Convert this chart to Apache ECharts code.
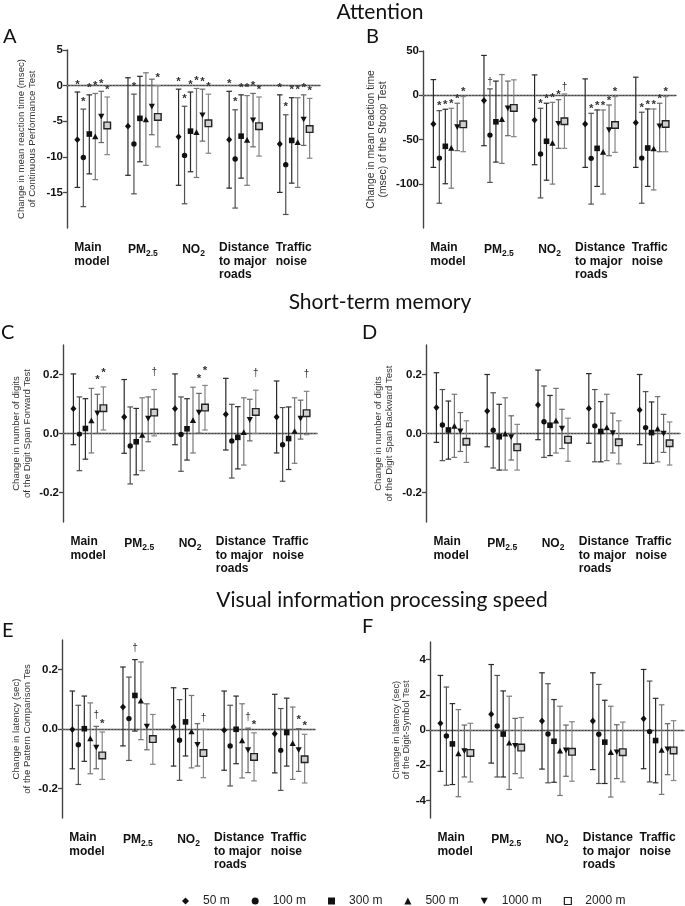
<!DOCTYPE html>
<html>
<head>
<meta charset="utf-8">
<script src="https://cdn.jsdelivr.net/npm/echarts@6/dist/echarts.min.js"></script>
<style>html,body{margin:0;padding:0;background:#fff}#c{width:685px;height:906px}</style>
</head>
<body>
<div id="c"></div>
<script>
// ---------- DATA ----------
const categories = ['Main\nmodel', 'PM2.5', 'NO2', 'Distance\nto major\nroads', 'Traffic\nnoise'];
const distances = ['50 m', '100 m', '300 m', '500 m', '1000 m', '2000 m'];

// rows: 50,100,300,500,1000,2000 m ; cols: categories
const meanA = [[-7.6,-5.7,-7.2,-7.6,-8.2],[-10.1,-8.2,-9.8,-10.3,-11.1],[-6.8,-4.6,-6.4,-7.1,-7.7],[-7.2,-4.8,-6.6,-7.7,-8.0],[-4.3,-2.9,-4.1,-4.8,-4.7],[-5.6,-4.4,-5.3,-5.7,-6.1]];
const lowA  = [[-14.3,-12.6,-14.0,-14.4,-15.0],[-17.0,-15.2,-16.6,-17.2,-18.1],[-12.4,-10.7,-12.1,-13.0,-13.7],[-13.2,-11.2,-12.9,-14.0,-14.3],[-8.0,-6.9,-7.8,-8.6,-8.4],[-9.7,-8.6,-9.5,-9.9,-10.2]];
const highA = [[-0.9,1.1,-0.5,-0.8,-1.3],[-3.3,-1.2,-2.9,-3.4,-4.1],[-1.3,1.3,-0.9,-1.3,-1.7],[-1.1,1.8,-0.4,-1.4,-1.7],[-0.8,0.9,-0.5,-1.1,-1.3],[-1.6,0.0,-1.2,-1.6,-1.8]];
const marksA = [['*','','*','*','*'],['*','*','*','*','*'],['*','','*','*','*'],['*','','*','*','*'],['*','','*','*','*'],['*','*','*','*','*']];

const meanB = [[-32.5,-6,-28,-32.5,-31],[-71,-45,-66.4,-71.3,-71],[-57.7,-30,-52,-60,-59.6],[-60,-27.5,-54.3,-64.5,-60.7],[-35.5,-14.3,-31.7,-38.9,-34.7],[-32.8,-14.3,-29.4,-33.6,-32.5]];
const lowB  = [[-81.5,-57,-78.5,-81.5,-81.5],[-122,-98.5,-116,-123,-122],[-100,-75.5,-96,-103,-103],[-105,-77,-100.4,-111.7,-107],[-62.6,-45.7,-60,-68.3,-63.8],[-63.8,-46.8,-60,-64.5,-63.8]];
const highB = [[17.7,45,23,18.5,20.4],[-17.4,7.2,-14.7,-20.4,-19.2],[-15.8,16,-9,-16.6,-15.5],[-14.7,23.4,-8,-16.6,-15.5],[-9,16,-5,-11,-9],[-1.5,17.4,1.5,-1.5,-1.5]];
const marksB = [['','','','',''],['*','†','*','*','*'],['*','','*','*','*'],['*','','*','*','*'],['*','','*','*','*'],['*','','†','*','*']];

const meanC = [[0.084,0.056,0.084,0.065,0.056],[-0.002,-0.042,-0.003,-0.025,-0.038],[0.017,-0.028,0.016,-0.013,-0.017],[0.043,-0.006,0.044,0.003,0.007],[0.070,0.052,0.072,0.048,0.052],[0.086,0.071,0.088,0.073,0.069]];
const lowC  = [[-0.038,-0.067,-0.038,-0.056,-0.066],[-0.126,-0.171,-0.128,-0.151,-0.162],[-0.087,-0.140,-0.090,-0.120,-0.122],[-0.066,-0.126,-0.066,-0.107,-0.101],[0.000,-0.028,0.001,-0.025,-0.019],[0.012,-0.008,0.012,0.000,-0.004]];
const highC = [[0.202,0.183,0.202,0.187,0.178],[0.124,0.090,0.124,0.099,0.088],[0.118,0.085,0.118,0.091,0.090],[0.153,0.121,0.157,0.121,0.121],[0.133,0.124,0.136,0.116,0.113],[0.158,0.149,0.163,0.147,0.143]];
const marksC = [['','','','',''],['','','','',''],['','','','',''],['','','','',''],['*','','*','',''],['*','†','*','†','†']];

const meanD = [[0.088,0.076,0.097,0.085,0.080],[0.029,0.011,0.040,0.026,0.020],[0.012,-0.011,0.028,0.007,0.003],[0.024,-0.002,0.042,0.019,0.015],[0.009,-0.011,0.018,0.003,0.001],[-0.028,-0.047,-0.021,-0.030,-0.033]];
const lowD  = [[-0.030,-0.045,-0.021,-0.033,-0.038],[-0.092,-0.117,-0.081,-0.096,-0.101],[-0.087,-0.124,-0.075,-0.096,-0.101],[-0.081,-0.124,-0.066,-0.092,-0.096],[-0.061,-0.090,-0.051,-0.066,-0.064],[-0.098,-0.124,-0.094,-0.103,-0.107]];
const highD = [[0.206,0.200,0.215,0.203,0.200],[0.149,0.138,0.161,0.149,0.142],[0.110,0.099,0.129,0.108,0.107],[0.133,0.121,0.153,0.133,0.125],[0.071,0.060,0.082,0.069,0.065],[0.043,0.031,0.052,0.043,0.039]];
const marksD = [['','','','',''],['','','','',''],['','','','',''],['','','','',''],['','','','',''],['','','','','']];

const meanE = [[-0.002,0.074,0.007,-0.004,-0.016],[-0.053,0.035,-0.038,-0.057,-0.072],[0.001,0.113,0.024,-0.001,-0.012],[-0.033,0.094,-0.010,-0.040,-0.049],[-0.061,0.010,-0.052,-0.070,-0.070],[-0.089,-0.034,-0.081,-0.094,-0.102]];
const lowE  = [[-0.134,-0.057,-0.125,-0.139,-0.148],[-0.187,-0.106,-0.173,-0.192,-0.207],[-0.109,-0.007,-0.091,-0.117,-0.125],[-0.151,-0.036,-0.131,-0.165,-0.170],[-0.134,-0.070,-0.125,-0.147,-0.143],[-0.170,-0.119,-0.164,-0.175,-0.182]];
const highE = [[0.128,0.209,0.139,0.128,0.117],[0.080,0.175,0.099,0.080,0.069],[0.111,0.234,0.136,0.111,0.104],[0.088,0.226,0.113,0.085,0.074],[0.009,0.085,0.018,0.003,0.001],[-0.010,0.049,-0.001,-0.013,-0.018]];
const marksE = [['','','','',''],['','','','',''],['','†','','',''],['','','','',''],['†','','','†','*'],['*','','†','*','*']];

const meanF = [[0.38,0.90,0.51,0.51,0.64],[-0.34,0.23,-0.23,-0.24,-0.09],[-0.79,-0.23,-0.64,-0.69,-0.60],[-1.35,-0.75,-1.20,-1.28,-1.16],[-1.18,-0.88,-1.13,-1.24,-1.07],[-1.30,-1.00,-1.24,-1.26,-1.16]];
const lowF  = [[-2.35,-1.88,-2.22,-2.25,-2.20],[-3.14,-2.67,-3.00,-3.04,-2.95],[-3.10,-2.67,-2.97,-3.04,-3.00],[-3.79,-3.38,-3.72,-3.81,-3.66],[-2.67,-2.48,-2.63,-2.76,-2.54],[-2.95,-2.72,-2.91,-2.95,-2.87]];
const highF = [[3.10,3.72,3.25,3.25,3.44],[2.44,3.10,2.63,2.59,2.78],[1.50,2.22,1.73,1.69,1.80],[1.16,1.92,1.35,1.35,1.43],[0.28,0.66,0.28,0.30,0.36],[0.38,0.71,0.47,0.45,0.53]];
const marksF = [['','','','',''],['','','','',''],['','','','',''],['','','','',''],['','','','',''],['','','','','']];

const ticksA = [5, 0, -5, -10, -15];
const ticksB = [50, 0, -50, -100];
const ticksC = [0.2, 0, -0.2];
const ticksD = [0.2, 0, -0.2];
const ticksE = [0.2, 0, -0.2];
const ticksF = [4, 2, 0, -2, -4];

const sectionTitles = ['Attention', 'Short-term memory', 'Visual information processing speed'];
const panelLetters = ['A', 'B', 'C', 'D', 'E', 'F'];
const axisNames = [
  'Change in mean reaction time (msec)\nof Continuous Performance Test',
  'Change in mean reaction time\n(msec) of the Stroop Test',
  'Change in number of digits\nof the Digit Span Forward Test',
  'Change in number of digits\nof the Digit Span Backward Test',
  'Change in latency (sec)\nof the Pattern Comparison Tes',
  'Change in latency (sec)\nof the Digit-Symbol Test'
];

// ---------- STYLE / LAYOUT ----------
const FONT = "'Liberation Sans', Arial, sans-serif";
const barColors = ['#2a2a2a', '#505050', '#2a2a2a', '#777777', '#666666', '#858585'];
const int = v => String(v);
const dec = v => (Math.abs(v) < 1e-9 ? 0 : v).toFixed(1);
const panels = [
  {mean: meanA, lo: lowA, hi: highA, marks: marksA, g: [67, 50, 253, 178], min: -20, max: 5, ticks: ticksA, fmt: int, gap: 29, nfs: 9.6, mg: 10},
  {mean: meanB, lo: lowB, hi: highB, marks: marksB, g: [423, 51, 253, 177], min: -150, max: 50, ticks: ticksB, fmt: int, gap: 34, nfs: 10.4, mg: 7},
  {mean: meanC, lo: lowC, hi: highC, marks: marksC, g: [63, 345, 254, 177], min: -0.3, max: 0.3, ticks: ticksC, fmt: dec, gap: 30, nfs: 9.6, mg: 17},
  {mean: meanD, lo: lowD, hi: highD, marks: marksD, g: [426, 345, 254, 177], min: -0.3, max: 0.3, ticks: ticksD, fmt: dec, gap: 31, nfs: 9.6, mg: 10},
  {mean: meanE, lo: lowE, hi: highE, marks: marksE, g: [62, 640, 253, 178], min: -0.3, max: 0.3, ticks: ticksE, fmt: dec, gap: 29, nfs: 9.6, mg: 11},
  {mean: meanF, lo: lowF, hi: highF, marks: marksF, g: [430, 642, 254, 176], min: -5, max: 5, ticks: ticksF, fmt: int, gap: 18, nfs: 9.4, mg: 10}
];

function marker(k, x, y) {
  const c = '#111';
  switch (k) {
    case 0: return {type: 'polygon', shape: {points: [[x, y - 3.4], [x + 3, y], [x, y + 3.4], [x - 3, y]]}, style: {fill: c}};
    case 1: return {type: 'circle', shape: {cx: x, cy: y, r: 2.7}, style: {fill: c}};
    case 2: return {type: 'rect', shape: {x: x - 2.8, y: y - 2.8, width: 5.6, height: 5.6}, style: {fill: c}};
    case 3: return {type: 'polygon', shape: {points: [[x, y - 3.3], [x + 3.1, y + 2.4], [x - 3.1, y + 2.4]]}, style: {fill: c}};
    case 4: return {type: 'polygon', shape: {points: [[x, y + 3.3], [x + 3.1, y - 2.4], [x - 3.1, y - 2.4]]}, style: {fill: c}};
    default: return {type: 'rect', shape: {x: x - 3.3, y: y - 3.3, width: 6.6, height: 6.6}, style: {fill: '#cfcfcf', stroke: '#222', lineWidth: 1.4}};
  }
}

function makeRender(k, marks, mg) {
  return function (params, api) {
    const ci = api.value(0);
    const band = api.size([1, 0])[0];
    const cx = api.coord([ci, 0])[0] + (k - 2.5) * band * 0.118;
    const ym = api.coord([ci, api.value(1)])[1];
    const yl = api.coord([ci, api.value(2)])[1];
    const yh = api.coord([ci, api.value(3)])[1];
    const col = barColors[k], cap = 2.8, lw = 1.2;
    const children = [
      {type: 'line', shape: {x1: cx, y1: yl, x2: cx, y2: yh}, style: {stroke: col, lineWidth: lw}},
      {type: 'line', shape: {x1: cx - cap, y1: yl, x2: cx + cap, y2: yl}, style: {stroke: col, lineWidth: lw}},
      {type: 'line', shape: {x1: cx - cap, y1: yh, x2: cx + cap, y2: yh}, style: {stroke: col, lineWidth: lw}},
      marker(k, cx, ym)
    ];
    const mk = marks[params.dataIndex];
    if (mk) {
      const star = mk === '*';
      children.push({type: 'text', style: {text: mk, x: cx, y: yh - mg + (star ? 2.5 : 0), align: 'center', verticalAlign: 'middle',
        fontSize: star ? 11.5 : 10, fontWeight: star ? 'bold' : 'normal', fontFamily: FONT, fill: '#333'}});
    }
    return {type: 'group', children};
  };
}

const rich = {
  m: {fontSize: 12, fontWeight: 'bold', fontFamily: FONT, color: '#111', lineHeight: 13.5, width: 36, align: 'left'},
  d: {fontSize: 12, fontWeight: 'bold', fontFamily: FONT, color: '#111', lineHeight: 13.5, width: 50, align: 'left'},
  t: {fontSize: 12, fontWeight: 'bold', fontFamily: FONT, color: '#111', lineHeight: 13.5, width: 38, align: 'left'},
  b: {fontSize: 12, fontWeight: 'bold', fontFamily: FONT, color: '#111', lineHeight: 14},
  s: {fontSize: 8.5, fontWeight: 'bold', fontFamily: FONT, color: '#111', lineHeight: 17, verticalAlign: 'bottom'}
};
function catFormatter(v) {
  if (v === 'PM2.5') return '{b|PM}{s|2.5}';
  if (v === 'NO2') return '{b|NO}{s|2}';
  const lines = v.split('\n');
  const key = lines[0] === 'Main' ? 'm' : (lines[0] === 'Distance' ? 'd' : 't');
  return lines.map(l => '{' + key + '|' + l + '}').join('\n');
}

const option = {animation: false, backgroundColor: '#fff', grid: [], xAxis: [], yAxis: [], series: []};
panels.forEach((p, gi) => {
  option.grid.push({left: p.g[0], top: p.g[1], width: p.g[2], height: p.g[3]});
  option.xAxis.push({
    type: 'category', gridIndex: gi, data: categories, boundaryGap: true,
    axisLine: {lineStyle: {color: '#444', width: 1.4}},
    axisTick: {alignWithLabel: true, length: 4, lineStyle: {color: '#444', width: 1.3}},
    axisLabel: {interval: 0, margin: 13, formatter: catFormatter, rich: rich},
    splitLine: {show: false}
  });
  option.yAxis.push({
    type: 'value', gridIndex: gi, min: p.min, max: p.max,
    name: axisNames[gi], nameLocation: 'middle', nameGap: p.gap,
    nameTextStyle: {fontSize: p.nfs, color: '#333', fontFamily: FONT, lineHeight: p.nfs + 1.2},
    axisLine: {show: true, lineStyle: {color: '#444', width: 1.4}},
    axisTick: {show: true, length: 4, customValues: p.ticks, lineStyle: {color: '#444', width: 1.3}},
    axisLabel: {customValues: p.ticks, formatter: p.fmt, fontWeight: 'bold', fontSize: 11.5, color: '#111', margin: 4, fontFamily: FONT},
    splitLine: {show: false}
  });
  distances.forEach((d, k) => {
    const s = {
      type: 'custom', name: d, xAxisIndex: gi, yAxisIndex: gi, itemStyle: {color: '#111'},
      data: categories.map((c, ci) => [ci, p.mean[k][ci], p.lo[k][ci], p.hi[k][ci]]),
      renderItem: makeRender(k, p.marks[k], p.mg), z: 3
    };
    if (k === 0) {
      s.markLine = {silent: true, symbol: ['none', 'none'], label: {show: false}, animation: false, z: 1,
        lineStyle: {type: [1.2, 2], color: '#888', width: 1}, data: [{yAxis: 0}]};
    }
    option.series.push(s);
  });
});

const icons = ['diamond', 'circle', 'rect', 'triangle', 'path://M0,0L10,0L5,9Z', 'rect'];
option.legend = {
  left: 177, top: 890, itemWidth: 7, itemHeight: 7, itemGap: 22, selectedMode: false,
  textStyle: {fontSize: 12, color: '#222', fontFamily: FONT, padding: [0, 0, 0, 9]},
  data: distances.map((d, i) => i === 5
    ? {name: d, icon: 'rect', itemStyle: {color: '#fff', borderColor: '#222', borderWidth: 1.2}}
    : {name: d, icon: icons[i], itemStyle: {color: '#111'}})
};

const titleFont = "21px Lato, 'Open Sans', sans-serif";
const letterFont = "20px Lato, 'Open Sans', sans-serif";
const tPos = [[380, 12], [380, 302], [382, 600]];
const lPos = [[3, 37], [366, 37], [1, 333], [362, 333], [2, 631], [362, 627]];
option.graphic = [];
sectionTitles.forEach((t, i) => option.graphic.push({type: 'text', x: tPos[i][0], y: tPos[i][1],
  style: {text: t, align: 'center', verticalAlign: 'middle', font: titleFont, fill: '#111'}}));
panelLetters.forEach((t, i) => option.graphic.push({type: 'text', x: lPos[i][0], y: lPos[i][1],
  style: {text: t, align: 'left', verticalAlign: 'middle', font: letterFont, fill: '#111'}}));

const chart = echarts.init(document.getElementById('c'), null, {renderer: 'canvas'});
chart.setOption(option);
</script>
</body>
</html>
